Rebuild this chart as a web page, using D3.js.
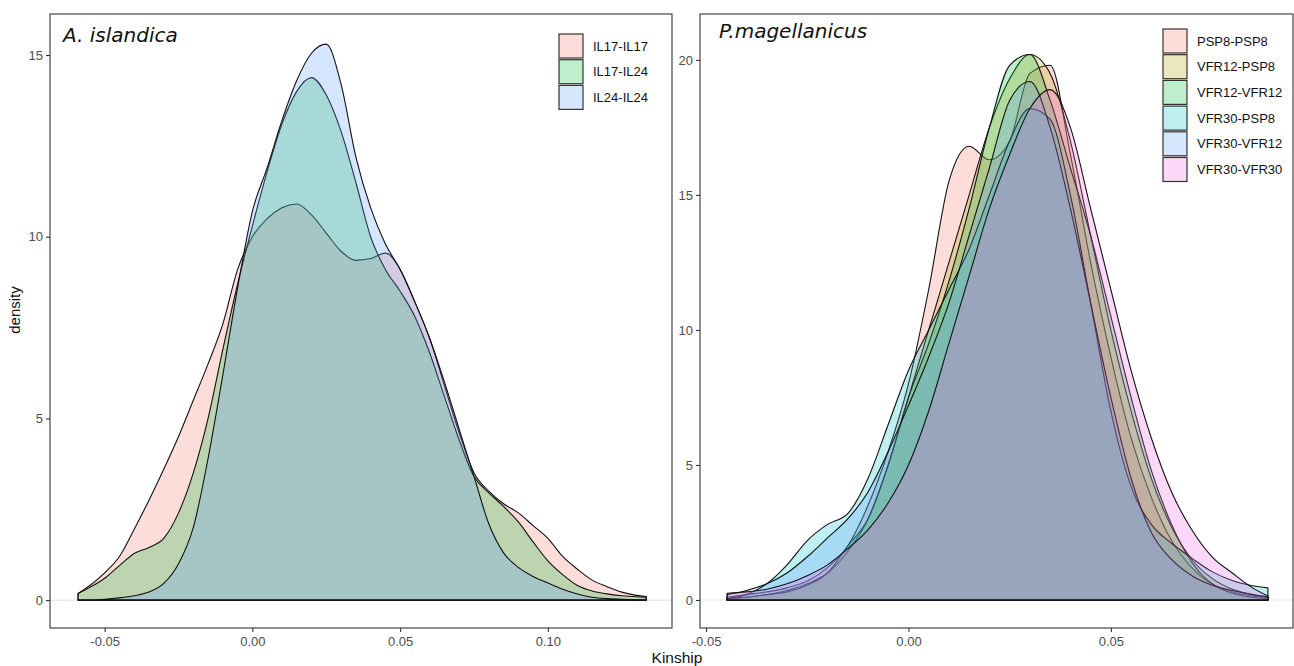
<!DOCTYPE html>
<html>
<head>
<meta charset="utf-8">
<script src="https://cdn.jsdelivr.net/npm/d3@7"></script>
<style>
  body { margin: 0; background: #fff; }
  text { font-family: "Liberation Sans", Arial, sans-serif; }
</style>
</head>
<body>
<div id="chart"></div>
<script>
// ---- data: left panel (A. islandica) ----
var kinshipA = [-0.059, -0.055, -0.05, -0.045, -0.04, -0.035, -0.03, -0.025, -0.02, -0.015, -0.01, -0.005,
  0.0, 0.005, 0.01, 0.015, 0.02, 0.025, 0.03, 0.035, 0.04, 0.045, 0.05, 0.055, 0.06, 0.065, 0.07, 0.075,
  0.08, 0.085, 0.09, 0.095, 0.10, 0.105, 0.11, 0.115, 0.12, 0.125, 0.13, 0.1333]
var il17il17 = [0.18, 0.4, 0.75, 1.2, 1.95, 2.75, 3.6, 4.5, 5.5, 6.5, 7.6, 9.1,
  10.0, 10.5, 10.8, 10.9, 10.6, 10.1, 9.6, 9.35, 9.4, 9.55, 9.1, 8.2, 7.2, 5.9, 4.6, 3.5,
  3.0, 2.65, 2.4, 2.05, 1.7, 1.2, 0.85, 0.55, 0.37, 0.22, 0.13, 0.1]
var il17il24 = [0.18, 0.35, 0.6, 0.95, 1.28, 1.45, 1.7, 2.4, 3.5, 5.0, 6.9, 8.7,
  10.3, 11.8, 13.1, 14.0, 14.38, 13.9, 12.9, 11.5, 10.0, 9.1, 8.5, 7.8, 6.8, 5.6, 4.4, 3.4,
  2.95, 2.58, 2.15, 1.6, 1.08, 0.7, 0.4, 0.25, 0.17, 0.12, 0.09, 0.08]
var il24il24 = [0.0, 0.0, 0.02, 0.06, 0.12, 0.22, 0.46, 1.0, 2.0, 3.9, 6.2, 8.6,
  10.7, 11.9, 13.2, 14.3, 15.05, 15.3, 14.2, 12.2, 10.8, 9.8, 9.1, 8.2, 7.2, 6.0, 4.7, 3.4,
  2.1, 1.3, 0.9, 0.65, 0.47, 0.3, 0.17, 0.08, 0.04, 0.02, 0.01, 0.0]
var groupsA = ["IL17-IL17", "IL17-IL24", "IL24-IL24"]

// ---- data: right panel (P. magellanicus) ----
var kinshipP = [-0.0448, -0.04, -0.035, -0.03, -0.025, -0.02, -0.015, -0.01, -0.005, 0.0, 0.005, 0.01,
  0.015, 0.02, 0.025, 0.03, 0.035, 0.04, 0.045, 0.05, 0.055, 0.06, 0.065, 0.07, 0.075, 0.08, 0.085, 0.0888]
var psp8psp8 = [0.1, 0.2, 0.3, 0.45, 0.7, 1.2, 2.0, 3.5, 5.5, 8.0, 11.5, 15.5,
  16.8, 16.3, 17.0, 19.5, 19.8, 16.5, 12.5, 9.0, 6.0, 3.8, 2.2, 1.2, 0.6, 0.3, 0.15, 0.08]
var vfr12psp8 = [0.05, 0.1, 0.2, 0.35, 0.6, 1.0, 1.8, 3.0, 5.0, 7.5, 10.0, 12.5,
  15.0, 17.5, 19.3, 20.2, 19.5, 17.0, 13.5, 10.0, 7.0, 4.5, 2.7, 1.5, 0.8, 0.4, 0.2, 0.08]
var vfr12vfr12 = [0.05, 0.1, 0.2, 0.3, 0.55, 1.0, 2.0, 3.0, 5.0, 7.5, 9.5, 11.8,
  14.5, 17.5, 19.8, 20.2, 18.5, 16.0, 13.5, 10.5, 7.5, 4.8, 2.8, 1.4, 0.6, 0.25, 0.1, 0.05]
var vfr30psp8 = [0.05, 0.2, 0.6, 1.3, 2.2, 2.8, 3.2, 4.5, 6.5, 8.5, 10.0, 11.5,
  13.0, 15.0, 17.0, 18.2, 17.8, 15.0, 11.0, 7.0, 4.2, 2.8, 2.1, 1.55, 1.05, 0.72, 0.53, 0.45]
var vfr30vfr12 = [0.2, 0.35, 0.6, 1.0, 1.6, 2.3, 3.0, 4.0, 5.5, 7.2, 9.0, 11.0,
  13.5, 16.0, 18.5, 19.2, 17.5, 14.5, 11.0, 7.5, 4.5, 2.5, 1.5, 0.9, 0.55, 0.35, 0.2, 0.12]
var vfr30vfr30 = [0.25, 0.3, 0.4, 0.6, 0.9, 1.3, 1.9, 2.6, 3.6, 5.0, 7.0, 9.5,
  12.0, 14.5, 16.5, 18.2, 18.9, 17.5, 14.5, 11.5, 8.5, 6.0, 4.0, 2.6, 1.6, 1.0, 0.45, 0.15]
var groupsP = ["PSP8-PSP8", "VFR12-PSP8", "VFR12-VFR12", "VFR30-PSP8", "VFR30-VFR12", "VFR30-VFR30"]

var width = 1294, height = 666

var svg = d3.select("#chart")
  .append("svg")
    .attr("width", width)
    .attr("height", height)

// draw one panel
function drawPanel(opt) {
  var x = d3.scaleLinear().domain(opt.xDomain).range([opt.left, opt.right])
  var y = d3.scaleLinear().domain(opt.yDomain).range([628, 14])
  var g = svg.append("g")

  // zero reference line
  g.append("line")
    .attr("x1", opt.left).attr("x2", opt.right)
    .attr("y1", y(0)).attr("y2", y(0))
    .attr("stroke", "#e6e6e6")
    .attr("stroke-width", 1.2)

  var area = d3.area()
    .x(function(d){ return x(d[0]) })
    .y0(y(0))
    .y1(function(d){ return y(d[1]) })
    .curve(d3.curveMonotoneX)

  opt.series.forEach(function(s, i){
    var pts = opt.kinship.map(function(k, j){ return [k, s[j]] })
    g.append("path")
      .datum(pts)
      .attr("d", function(d){ return area(d) + "Z" })
      .attr("fill", opt.colors[i])
      .attr("fill-opacity", 0.25)
      .attr("stroke", "#111")
      .attr("stroke-width", 1.1)
      .attr("stroke-linejoin", "round")
  })

  // border
  g.append("rect")
    .attr("x", opt.left).attr("y", 14)
    .attr("width", opt.right - opt.left).attr("height", 614)
    .attr("fill", "none")
    .attr("stroke", "#333")
    .attr("stroke-width", 1.1)

  // axes
  var xAxis = g.append("g")
    .attr("transform", "translate(0,628)")
    .call(d3.axisBottom(x).tickValues(opt.xTicks).tickFormat(d3.format(".2f")).tickSize(4).tickPadding(5))
  var yAxis = g.append("g")
    .attr("transform", "translate(" + opt.left + ",0)")
    .call(d3.axisLeft(y).tickValues(opt.yTicks).tickFormat(d3.format("d")).tickSize(4).tickPadding(3))
  ;[xAxis, yAxis].forEach(function(a){
    a.select(".domain").remove()
    a.selectAll(".tick line").attr("stroke", "#333").attr("stroke-width", 1.1)
    a.selectAll(".tick text")
      .attr("fill", "#4d4d4d")
      .style("font-size", "13px")
      .style("font-family", "Liberation Sans, Arial, sans-serif")
  })
  xAxis.selectAll(".tick text").text(function(d){ return d3.format(".2f")(d).replace("\u2212", "-") })

  // title
  g.append("text")
    .attr("x", opt.titleX).attr("y", opt.titleY)
    .text(opt.title)
    .style("font-family", "DejaVu Sans, sans-serif")
    .style("font-style", "italic")
    .style("font-size", "20px")
    .attr("fill", "#111")

  // legend
  var lg = g.append("g")
  opt.groups.forEach(function(name, i){
    var yy = opt.legendY + i * 25.7
    lg.append("rect")
      .attr("x", opt.legendX).attr("y", yy)
      .attr("width", 24).attr("height", 24)
      .attr("fill", opt.colors[i])
      .attr("fill-opacity", 0.25)
      .attr("stroke", "#333")
      .attr("stroke-width", 1.2)
    lg.append("text")
      .attr("x", opt.legendX + 34).attr("y", yy + 12)
      .attr("dominant-baseline", "central")
      .style("font-size", "13px")
      .attr("fill", "#111")
      .text(name)
  })
}

drawPanel({
  left: 50, right: 672,
  xDomain: [-0.0685, 0.1420], yDomain: [-0.768, 16.13],
  xTicks: [-0.05, 0.00, 0.05, 0.10], yTicks: [0, 5, 10, 15],
  kinship: kinshipA, series: [il17il17, il17il24, il24il24],
  colors: ["#F8766D", "#00BA38", "#619CFF"],
  groups: groupsA,
  title: "A. islandica", titleX: 63, titleY: 42,
  legendX: 559, legendY: 34
})

drawPanel({
  left: 700, right: 1293,
  xDomain: [-0.0515, 0.0950], yDomain: [-1.037, 21.7],
  xTicks: [-0.05, 0.00, 0.05], yTicks: [0, 5, 10, 15, 20],
  kinship: kinshipP, series: [psp8psp8, vfr12psp8, vfr12vfr12, vfr30psp8, vfr30vfr12, vfr30vfr30],
  colors: ["#F8766D", "#B79F00", "#00BA38", "#00BFC4", "#619CFF", "#F564E3"],
  groups: groupsP,
  title: "P.magellanicus", titleX: 719, titleY: 38,
  legendX: 1163, legendY: 29
})

// axis titles
svg.append("text")
  .attr("x", 677).attr("y", 663)
  .attr("text-anchor", "middle")
  .style("font-size", "15.5px")
  .attr("fill", "#111")
  .text("Kinship")

svg.append("text")
  .attr("transform", "translate(20,310) rotate(-90)")
  .attr("text-anchor", "middle")
  .style("font-size", "15px")
  .attr("fill", "#111")
  .text("density")
</script>
</body>
</html>
